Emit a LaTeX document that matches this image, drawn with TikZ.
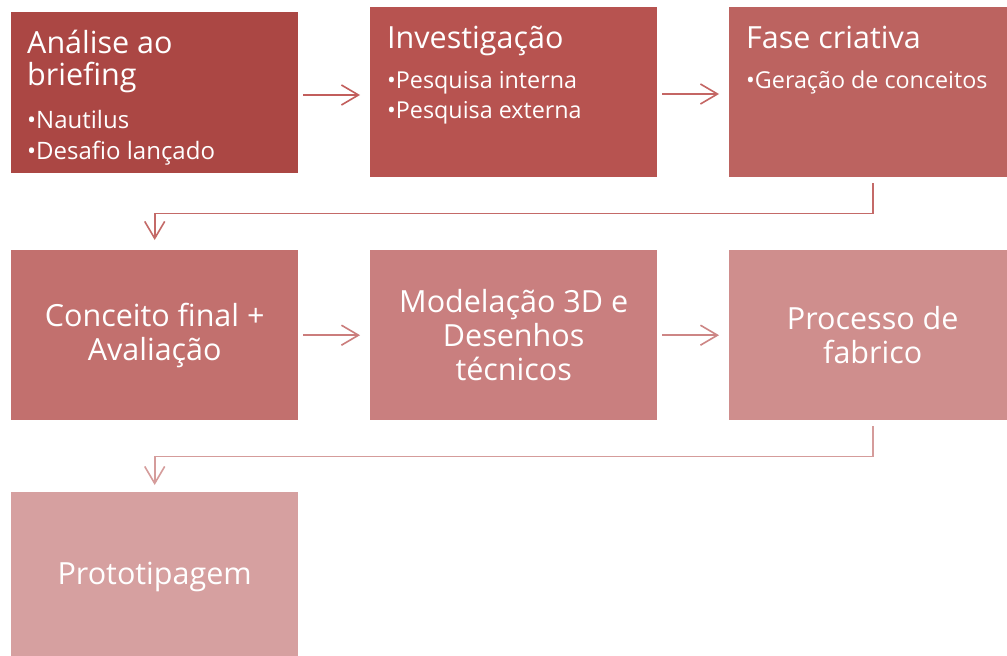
\documentclass[tikz,border=0pt]{standalone}
\usepackage{fontspec}
\setmainfont{Open Sans}
\usetikzlibrary{arrows.meta}
\definecolor{c1}{HTML}{AB4744}
\definecolor{c2}{HTML}{B75350}
\definecolor{c3}{HTML}{BC6360}
\definecolor{c4}{HTML}{C2706E}
\definecolor{c5}{HTML}{C97F7F}
\definecolor{c6}{HTML}{CF8E8D}
\definecolor{c7}{HTML}{D6A0A0}
\definecolor{a1}{HTML}{C25E5C}
\definecolor{a2}{HTML}{C46664}
\definecolor{a3}{HTML}{C46A68}
\definecolor{a4}{HTML}{CB7D7C}
\definecolor{a5}{HTML}{CD8685}
\definecolor{a6}{HTML}{D59C9B}
\tikzset{
  box/.style={draw=none, rectangle, anchor=north west, minimum width=287pt, inner sep=0pt, text=white, align=center, font=\fontsize{30.5}{34}\selectfont},
  title/.style={anchor=base west, inner sep=0pt, text=white, font=\fontsize{30.5}{32}\selectfont},
  bulA/.style={anchor=base west, inner sep=0pt, text=white, font=\fontsize{24}{30}\selectfont},
  bulB/.style={anchor=base west, inner sep=0pt, text=white, font=\fontsize{23.3}{30}\selectfont},
  arr/.style={line width=1.6pt, -{Straight Barb[length=17pt,width=20pt,line width=1.6pt]}},
}
\begin{document}
\begin{tikzpicture}[x=1pt,y=-1pt]
\clip (0,0) rectangle (1007,656);
\fill[white] (0,0) rectangle (1007,656);
% boxes
\node[box, fill=c1, minimum height=161pt] (b1) at (11,12) {};
\node[box, fill=c2, minimum height=170pt] (b2) at (370,7) {};
\node[box, fill=c3, minimum height=170pt] (b3) at (729,7) {};
\node[box, fill=c4, minimum height=170pt] (b4) at (11,250) {Conceito final +\\Avaliação};
\node[box, fill=c5, minimum height=170pt] (b5) at (370,250) {Modelação 3D e\\Desenhos\\técnicos};
\node[box, fill=c6, minimum height=170pt] (b6) at (729,250) {Processo de\\fabrico};
\node[box, fill=c7, minimum height=170pt] (b7) at (11,492) {Prototipagem};
% texts of first row
\node[title] (t1a) at (27,53) {Análise ao};
\node[title] (t1b) at (27,85) {briefing};
\node[bulA] (l1a) at (27,128) {•Nautilus};
\node[bulA] (l1b) at (27,159) {•Desafio lançado};
\node[title] (t2) at (387,48) {Investigação};
\node[bulB] (l2a) at (387,88) {•Pesquisa interna};
\node[bulB] (l2b) at (387,118) {•Pesquisa externa};
\node[title] (t3) at (746,48) {Fase criativa};
\node[bulB] (l3) at (746,88) {•Geração de conceitos};
% connectors
\draw[arr, a1, shorten <=5pt, shorten >=10pt] (b1.east |- 0,95) coordinate (p1) -- (b2.west |- p1);
\draw[arr, a2, shorten <=5pt, shorten >=10pt] (b2.east |- 0,94) coordinate (p2) -- (b3.west |- p2);
\draw[arr, a3, shorten <=6pt, shorten >=10pt] (b3.south) -- ++(0,36) -| (b4.north);
\draw[arr, a4, shorten <=5pt, shorten >=10pt] (b4.east) -- (b5.west);
\draw[arr, a5, shorten <=5pt, shorten >=10pt] (b5.east) -- (b6.west);
\draw[arr, a6, shorten <=6pt, shorten >=7pt] (b6.south) -- ++(0,36) -| (b7.north);
\end{tikzpicture}
\end{document}
